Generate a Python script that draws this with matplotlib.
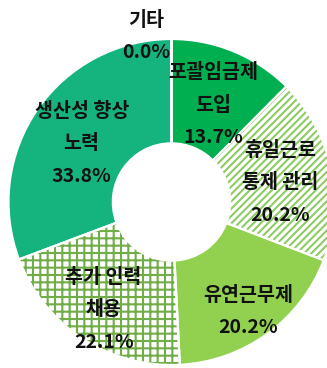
import numpy as np
import matplotlib
matplotlib.use("Agg")
import matplotlib.pyplot as plt
from matplotlib.patches import Wedge

# --- data -------------------------------------------------------------
categories = ["포괄임금제\n도입", "휴일근로\n통제 관리", "유연근무제",
              "추가 인력\n채용", "생산성 향상\n노력", "기타"]
values = [13.7, 20.2, 20.2, 22.1, 33.8, 0.0]

# --- style ------------------------------------------------------------
face_colors = ["#00B050", "#FFFFFF", "#92D050", "#FFFFFF", "#15B47F", "#FFFFFF"]
hatch_colors = [None, "#8DCB63", None, "#70AD47", None, None]
hatches = [None, "////", None, "++", None, None]
label_radius = [0.67, 0.68, 0.80, 0.76, 0.67, 1.04]
label_dx = [0, 0, 0, 0, 0, -25]

DPI = 88
W, H = 327, 368
plt.rcParams["font.family"] = ["Noto Sans CJK KR", "DejaVu Sans"]
plt.rcParams["hatch.linewidth"] = 1.7


def px(v):
    return v * 72.0 / DPI


fig = plt.figure(figsize=(W / DPI, H / DPI), dpi=DPI)
ax = fig.add_axes([0, 0, 1, 1])

R = 163.0
center = (171.5, H - 202.0)

wedges, _ = ax.pie(values, startangle=90, counterclock=False,
                   radius=R, center=center, colors=face_colors,
                   wedgeprops=dict(width=R * 0.64, linewidth=0))
ax.set_xlim(0, W)
ax.set_ylim(0, H)
ax.set_aspect("auto")
ax.axis("off")

for w, hc, h in zip(wedges, hatch_colors, hatches):
    if h:
        w.set_hatch(h)
        w.set_edgecolor(hc)
        w.set_linewidth(0)

# white separators between slices
for w in wedges:
    ax.add_patch(Wedge(w.center, w.r, w.theta1, w.theta2, width=w.width,
                       fill=False, edgecolor="white", linewidth=1.8,
                       zorder=3))

# labels: category lines + percentage, stacked around the slice mid-angle
line_gap = 32.5
for w, cat, val, lr, dx in zip(wedges, categories, values, label_radius,
                               label_dx):
    mid = np.deg2rad((w.theta1 + w.theta2) / 2.0)
    cx = center[0] + lr * R * np.cos(mid) + dx
    cy = center[1] + lr * R * np.sin(mid) - 4
    lines = cat.split("\n") + [f"{val:.1f}%"]
    n = len(lines)
    for i, t in enumerate(lines):
        y = cy + ((n - 1) / 2.0 - i) * line_gap
        ax.text(cx, y, t, ha="center", va="center", fontsize=px(19.5),
                fontweight="bold", color="#111111", zorder=4)

fig.savefig("out.png", dpi=DPI)
